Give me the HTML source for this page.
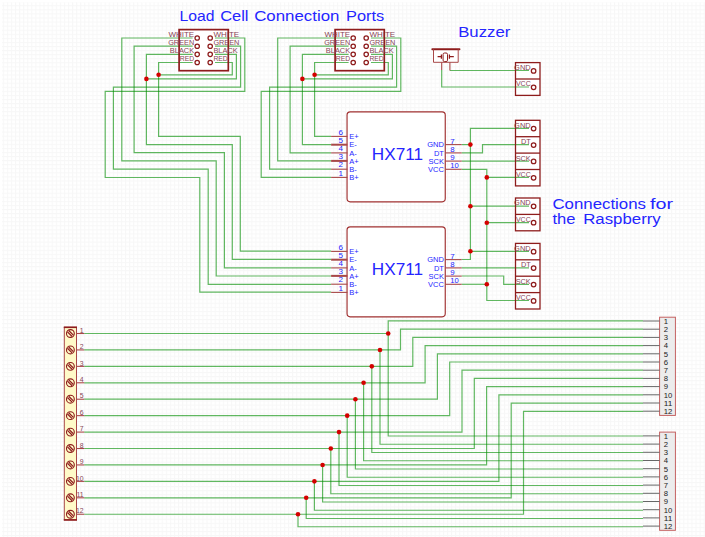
<!DOCTYPE html>
<html><head><meta charset="utf-8"><style>
html,body{margin:0;padding:0;background:#fff;width:705px;height:537px;overflow:hidden}
svg{display:block}
text{font-family:"Liberation Sans", sans-serif}
</style></head><body>
<svg width="705" height="537" viewBox="0 0 705 537" font-family='"Liberation Sans", sans-serif'>
<defs><pattern id="g" x="2.800" y="1.200" width="4.075" height="4.075" patternUnits="userSpaceOnUse"><path d="M0,0.5 H4.075 M0.5,0 V4.075" stroke="#f7f7f7" stroke-width="1" fill="none"/></pattern></defs>
<rect width="705" height="537" fill="#fff"/>
<rect width="705" height="537" fill="url(#g)"/>
<rect width="705" height="2.3" fill="#fff"/><rect width="1.9" height="537" fill="#fff"/>
<rect x="179.10" y="29.6" width="49.2" height="40.8" fill="#fff"/>
<rect x="335.10" y="29.6" width="49.2" height="40.8" fill="#fff"/>
<rect x="346.9" y="111.80" width="98.4" height="90.0" rx="3.2" fill="#fff"/>
<rect x="346.9" y="226.80" width="98.4" height="90.0" rx="3.2" fill="#fff"/>
<rect x="515.5" y="62.60" width="24.5" height="32.80" fill="#fff"/>
<rect x="515.5" y="120.30" width="24.5" height="65.60" fill="#fff"/>
<rect x="515.5" y="198.00" width="24.5" height="32.80" fill="#fff"/>
<rect x="515.5" y="243.40" width="24.5" height="65.60" fill="#fff"/>
<rect x="433.5" y="49.3" width="24.7" height="13" fill="#fff"/>
<path d="M192.60,38.00 L121.80,38.00 L121.80,160.80 L216.20,160.80 L216.20,276.00 L331.10,276.00" fill="none" stroke="#008c00" stroke-opacity="0.62" stroke-width="1.2" stroke-linejoin="miter" stroke-linecap="butt"/>
<path d="M192.60,46.20 L134.10,46.20 L134.10,152.70 L224.40,152.70 L224.40,267.90 L331.10,267.90" fill="none" stroke="#008c00" stroke-opacity="0.62" stroke-width="1.2" stroke-linejoin="miter" stroke-linecap="butt"/>
<path d="M192.60,54.30 L146.40,54.30 L146.40,144.60 L232.30,144.60 L232.30,259.40 L331.10,259.40" fill="none" stroke="#008c00" stroke-opacity="0.62" stroke-width="1.2" stroke-linejoin="miter" stroke-linecap="butt"/>
<path d="M192.60,62.50 L158.60,62.50 L158.60,136.40 L240.30,136.40 L240.30,251.20 L331.10,251.20" fill="none" stroke="#008c00" stroke-opacity="0.62" stroke-width="1.2" stroke-linejoin="miter" stroke-linecap="butt"/>
<path d="M215.00,38.00 L244.80,38.00 L244.80,91.40 L105.20,91.40 L105.20,177.50 L199.80,177.50 L199.80,292.20 L331.10,292.20" fill="none" stroke="#008c00" stroke-opacity="0.62" stroke-width="1.2" stroke-linejoin="miter" stroke-linecap="butt"/>
<path d="M215.00,46.20 L240.60,46.20 L240.60,87.20 L113.40,87.20 L113.40,169.20 L208.20,169.20 L208.20,284.30 L331.10,284.30" fill="none" stroke="#008c00" stroke-opacity="0.62" stroke-width="1.2" stroke-linejoin="miter" stroke-linecap="butt"/>
<path d="M215.00,54.30 L236.40,54.30 L236.40,78.90 L146.40,78.90" fill="none" stroke="#008c00" stroke-opacity="0.62" stroke-width="1.2" stroke-linejoin="miter" stroke-linecap="butt"/>
<path d="M215.00,62.50 L232.30,62.50 L232.30,74.80 L158.60,74.80" fill="none" stroke="#008c00" stroke-opacity="0.62" stroke-width="1.2" stroke-linejoin="miter" stroke-linecap="butt"/>
<circle cx="146.40" cy="78.90" r="2.3" fill="#d40000"/>
<circle cx="158.60" cy="74.80" r="2.3" fill="#d40000"/>
<path d="M348.60,38.00 L277.70,38.00 L277.70,160.90 L331.10,160.90" fill="none" stroke="#008c00" stroke-opacity="0.62" stroke-width="1.2" stroke-linejoin="miter" stroke-linecap="butt"/>
<path d="M348.60,46.20 L290.10,46.20 L290.10,152.90 L331.10,152.90" fill="none" stroke="#008c00" stroke-opacity="0.62" stroke-width="1.2" stroke-linejoin="miter" stroke-linecap="butt"/>
<path d="M348.60,54.30 L302.40,54.30 L302.40,144.70 L331.10,144.70" fill="none" stroke="#008c00" stroke-opacity="0.62" stroke-width="1.2" stroke-linejoin="miter" stroke-linecap="butt"/>
<path d="M348.60,62.50 L314.60,62.50 L314.60,136.40 L331.10,136.40" fill="none" stroke="#008c00" stroke-opacity="0.62" stroke-width="1.2" stroke-linejoin="miter" stroke-linecap="butt"/>
<path d="M371.00,38.00 L400.80,38.00 L400.80,91.40 L261.20,91.40 L261.20,177.40 L331.10,177.40" fill="none" stroke="#008c00" stroke-opacity="0.62" stroke-width="1.2" stroke-linejoin="miter" stroke-linecap="butt"/>
<path d="M371.00,46.20 L396.60,46.20 L396.60,87.20 L269.60,87.20 L269.60,169.20 L331.10,169.20" fill="none" stroke="#008c00" stroke-opacity="0.62" stroke-width="1.2" stroke-linejoin="miter" stroke-linecap="butt"/>
<path d="M371.00,54.30 L392.40,54.30 L392.40,78.90 L302.40,78.90" fill="none" stroke="#008c00" stroke-opacity="0.62" stroke-width="1.2" stroke-linejoin="miter" stroke-linecap="butt"/>
<path d="M371.00,62.50 L388.30,62.50 L388.30,74.80 L314.60,74.80" fill="none" stroke="#008c00" stroke-opacity="0.62" stroke-width="1.2" stroke-linejoin="miter" stroke-linecap="butt"/>
<circle cx="302.40" cy="78.90" r="2.3" fill="#d40000"/>
<circle cx="314.60" cy="74.80" r="2.3" fill="#d40000"/>
<path d="M449.90,70.50 L529.00,70.50" fill="none" stroke="#008c00" stroke-opacity="0.62" stroke-width="1.2" stroke-linejoin="miter" stroke-linecap="butt"/>
<path d="M441.70,70.00 L441.70,87.00 L529.00,87.00" fill="none" stroke="#008c00" stroke-opacity="0.62" stroke-width="1.2" stroke-linejoin="miter" stroke-linecap="butt"/>
<path d="M529.00,128.40 L470.40,128.40 L470.40,259.50 L461.70,259.50" fill="none" stroke="#008c00" stroke-opacity="0.62" stroke-width="1.2" stroke-linejoin="miter" stroke-linecap="butt"/>
<path d="M461.70,144.60 L470.40,144.60" fill="none" stroke="#008c00" stroke-opacity="0.62" stroke-width="1.2" stroke-linejoin="miter" stroke-linecap="butt"/>
<path d="M470.40,206.20 L529.00,206.20" fill="none" stroke="#008c00" stroke-opacity="0.62" stroke-width="1.2" stroke-linejoin="miter" stroke-linecap="butt"/>
<path d="M470.40,251.30 L529.00,251.30" fill="none" stroke="#008c00" stroke-opacity="0.62" stroke-width="1.2" stroke-linejoin="miter" stroke-linecap="butt"/>
<circle cx="470.40" cy="144.60" r="2.3" fill="#d40000"/>
<circle cx="470.40" cy="206.20" r="2.3" fill="#d40000"/>
<circle cx="470.40" cy="251.30" r="2.3" fill="#d40000"/>
<path d="M461.70,152.90 L482.50,152.90 L482.50,144.70 L529.00,144.70" fill="none" stroke="#008c00" stroke-opacity="0.62" stroke-width="1.2" stroke-linejoin="miter" stroke-linecap="butt"/>
<path d="M461.70,161.10 L529.00,161.10" fill="none" stroke="#008c00" stroke-opacity="0.62" stroke-width="1.2" stroke-linejoin="miter" stroke-linecap="butt"/>
<path d="M461.70,169.30 L486.80,169.30 L486.80,300.50 L529.00,300.50" fill="none" stroke="#008c00" stroke-opacity="0.62" stroke-width="1.2" stroke-linejoin="miter" stroke-linecap="butt"/>
<path d="M486.80,177.40 L529.00,177.40" fill="none" stroke="#008c00" stroke-opacity="0.62" stroke-width="1.2" stroke-linejoin="miter" stroke-linecap="butt"/>
<path d="M486.80,222.70 L529.00,222.70" fill="none" stroke="#008c00" stroke-opacity="0.62" stroke-width="1.2" stroke-linejoin="miter" stroke-linecap="butt"/>
<path d="M461.70,284.30 L486.80,284.30" fill="none" stroke="#008c00" stroke-opacity="0.62" stroke-width="1.2" stroke-linejoin="miter" stroke-linecap="butt"/>
<circle cx="486.80" cy="177.40" r="2.3" fill="#d40000"/>
<circle cx="486.80" cy="222.70" r="2.3" fill="#d40000"/>
<circle cx="486.80" cy="284.30" r="2.3" fill="#d40000"/>
<path d="M461.70,267.90 L529.00,267.90" fill="none" stroke="#008c00" stroke-opacity="0.62" stroke-width="1.2" stroke-linejoin="miter" stroke-linecap="butt"/>
<path d="M461.70,276.00 L503.70,276.00 L503.70,284.30 L529.00,284.30" fill="none" stroke="#008c00" stroke-opacity="0.62" stroke-width="1.2" stroke-linejoin="miter" stroke-linecap="butt"/>
<path d="M84.20,333.50 L388.20,333.50 L388.20,320.90 L643.00,320.90" fill="none" stroke="#008c00" stroke-opacity="0.62" stroke-width="1.2" stroke-linejoin="miter" stroke-linecap="butt"/>
<path d="M388.20,333.50 L388.20,436.00 L643.00,436.00" fill="none" stroke="#008c00" stroke-opacity="0.62" stroke-width="1.2" stroke-linejoin="miter" stroke-linecap="butt"/>
<circle cx="388.20" cy="333.50" r="2.3" fill="#d40000"/>
<path d="M84.20,349.93 L400.50,349.93 L400.50,329.12 L643.00,329.12" fill="none" stroke="#008c00" stroke-opacity="0.62" stroke-width="1.2" stroke-linejoin="miter" stroke-linecap="butt"/>
<path d="M380.00,349.93 L380.00,444.25 L643.00,444.25" fill="none" stroke="#008c00" stroke-opacity="0.62" stroke-width="1.2" stroke-linejoin="miter" stroke-linecap="butt"/>
<circle cx="380.00" cy="349.93" r="2.3" fill="#d40000"/>
<path d="M84.20,366.36 L412.80,366.36 L412.80,337.34 L643.00,337.34" fill="none" stroke="#008c00" stroke-opacity="0.62" stroke-width="1.2" stroke-linejoin="miter" stroke-linecap="butt"/>
<path d="M371.80,366.36 L371.80,452.50 L643.00,452.50" fill="none" stroke="#008c00" stroke-opacity="0.62" stroke-width="1.2" stroke-linejoin="miter" stroke-linecap="butt"/>
<circle cx="371.80" cy="366.36" r="2.3" fill="#d40000"/>
<path d="M84.20,382.79 L425.10,382.79 L425.10,345.56 L643.00,345.56" fill="none" stroke="#008c00" stroke-opacity="0.62" stroke-width="1.2" stroke-linejoin="miter" stroke-linecap="butt"/>
<path d="M363.60,382.79 L363.60,460.75 L643.00,460.75" fill="none" stroke="#008c00" stroke-opacity="0.62" stroke-width="1.2" stroke-linejoin="miter" stroke-linecap="butt"/>
<circle cx="363.60" cy="382.79" r="2.3" fill="#d40000"/>
<path d="M84.20,399.22 L437.40,399.22 L437.40,353.78 L643.00,353.78" fill="none" stroke="#008c00" stroke-opacity="0.62" stroke-width="1.2" stroke-linejoin="miter" stroke-linecap="butt"/>
<path d="M355.40,399.22 L355.40,469.00 L643.00,469.00" fill="none" stroke="#008c00" stroke-opacity="0.62" stroke-width="1.2" stroke-linejoin="miter" stroke-linecap="butt"/>
<circle cx="355.40" cy="399.22" r="2.3" fill="#d40000"/>
<path d="M84.20,415.65 L449.70,415.65 L449.70,362.00 L643.00,362.00" fill="none" stroke="#008c00" stroke-opacity="0.62" stroke-width="1.2" stroke-linejoin="miter" stroke-linecap="butt"/>
<path d="M347.20,415.65 L347.20,477.25 L643.00,477.25" fill="none" stroke="#008c00" stroke-opacity="0.62" stroke-width="1.2" stroke-linejoin="miter" stroke-linecap="butt"/>
<circle cx="347.20" cy="415.65" r="2.3" fill="#d40000"/>
<path d="M84.20,432.08 L462.00,432.08 L462.00,370.22 L643.00,370.22" fill="none" stroke="#008c00" stroke-opacity="0.62" stroke-width="1.2" stroke-linejoin="miter" stroke-linecap="butt"/>
<path d="M339.00,432.08 L339.00,485.50 L643.00,485.50" fill="none" stroke="#008c00" stroke-opacity="0.62" stroke-width="1.2" stroke-linejoin="miter" stroke-linecap="butt"/>
<circle cx="339.00" cy="432.08" r="2.3" fill="#d40000"/>
<path d="M84.20,448.51 L474.30,448.51 L474.30,378.44 L643.00,378.44" fill="none" stroke="#008c00" stroke-opacity="0.62" stroke-width="1.2" stroke-linejoin="miter" stroke-linecap="butt"/>
<path d="M330.80,448.51 L330.80,493.75 L643.00,493.75" fill="none" stroke="#008c00" stroke-opacity="0.62" stroke-width="1.2" stroke-linejoin="miter" stroke-linecap="butt"/>
<circle cx="330.80" cy="448.51" r="2.3" fill="#d40000"/>
<path d="M84.20,464.94 L486.60,464.94 L486.60,386.66 L643.00,386.66" fill="none" stroke="#008c00" stroke-opacity="0.62" stroke-width="1.2" stroke-linejoin="miter" stroke-linecap="butt"/>
<path d="M322.60,464.94 L322.60,502.00 L643.00,502.00" fill="none" stroke="#008c00" stroke-opacity="0.62" stroke-width="1.2" stroke-linejoin="miter" stroke-linecap="butt"/>
<circle cx="322.60" cy="464.94" r="2.3" fill="#d40000"/>
<path d="M84.20,481.37 L498.90,481.37 L498.90,394.88 L643.00,394.88" fill="none" stroke="#008c00" stroke-opacity="0.62" stroke-width="1.2" stroke-linejoin="miter" stroke-linecap="butt"/>
<path d="M314.40,481.37 L314.40,510.25 L643.00,510.25" fill="none" stroke="#008c00" stroke-opacity="0.62" stroke-width="1.2" stroke-linejoin="miter" stroke-linecap="butt"/>
<circle cx="314.40" cy="481.37" r="2.3" fill="#d40000"/>
<path d="M84.20,497.80 L511.20,497.80 L511.20,403.10 L643.00,403.10" fill="none" stroke="#008c00" stroke-opacity="0.62" stroke-width="1.2" stroke-linejoin="miter" stroke-linecap="butt"/>
<path d="M306.20,497.80 L306.20,518.50 L643.00,518.50" fill="none" stroke="#008c00" stroke-opacity="0.62" stroke-width="1.2" stroke-linejoin="miter" stroke-linecap="butt"/>
<circle cx="306.20" cy="497.80" r="2.3" fill="#d40000"/>
<path d="M84.20,514.23 L523.50,514.23 L523.50,411.32 L643.00,411.32" fill="none" stroke="#008c00" stroke-opacity="0.62" stroke-width="1.2" stroke-linejoin="miter" stroke-linecap="butt"/>
<path d="M298.00,514.23 L298.00,526.75 L643.00,526.75" fill="none" stroke="#008c00" stroke-opacity="0.62" stroke-width="1.2" stroke-linejoin="miter" stroke-linecap="butt"/>
<circle cx="298.00" cy="514.23" r="2.3" fill="#d40000"/>
<rect x="179.10" y="29.6" width="49.20" height="41.1" fill="none" stroke="#8e1c1c" stroke-width="1.7"/>
<circle cx="197.20" cy="38.0" r="2.2" fill="none" stroke="#8e1c1c" stroke-width="1.25"/>
<circle cx="210.20" cy="38.0" r="2.2" fill="none" stroke="#8e1c1c" stroke-width="1.25"/>
<text x="194.20" y="36.90" font-size="6.9" fill="#874455" text-anchor="end" textLength="25.8" lengthAdjust="spacingAndGlyphs">WHITE</text>
<text x="213.40" y="36.90" font-size="6.9" fill="#874455" text-anchor="start" textLength="25.8" lengthAdjust="spacingAndGlyphs">WHITE</text>
<circle cx="197.20" cy="46.2" r="2.2" fill="none" stroke="#8e1c1c" stroke-width="1.25"/>
<circle cx="210.20" cy="46.2" r="2.2" fill="none" stroke="#8e1c1c" stroke-width="1.25"/>
<text x="194.20" y="45.10" font-size="6.9" fill="#874455" text-anchor="end" textLength="26.0" lengthAdjust="spacingAndGlyphs">GREEN</text>
<text x="213.40" y="45.10" font-size="6.9" fill="#874455" text-anchor="start" textLength="26.0" lengthAdjust="spacingAndGlyphs">GREEN</text>
<circle cx="197.20" cy="54.3" r="2.2" fill="none" stroke="#8e1c1c" stroke-width="1.25"/>
<circle cx="210.20" cy="54.3" r="2.2" fill="none" stroke="#8e1c1c" stroke-width="1.25"/>
<text x="194.20" y="53.20" font-size="6.9" fill="#874455" text-anchor="end" textLength="24.4" lengthAdjust="spacingAndGlyphs">BLACK</text>
<text x="213.40" y="53.20" font-size="6.9" fill="#874455" text-anchor="start" textLength="24.4" lengthAdjust="spacingAndGlyphs">BLACK</text>
<circle cx="197.20" cy="62.5" r="2.2" fill="none" stroke="#8e1c1c" stroke-width="1.25"/>
<circle cx="210.20" cy="62.5" r="2.2" fill="none" stroke="#8e1c1c" stroke-width="1.25"/>
<text x="194.20" y="61.40" font-size="6.9" fill="#874455" text-anchor="end" textLength="14.4" lengthAdjust="spacingAndGlyphs">RED</text>
<text x="213.40" y="61.40" font-size="6.9" fill="#874455" text-anchor="start" textLength="14.4" lengthAdjust="spacingAndGlyphs">RED</text>
<rect x="335.10" y="29.6" width="49.20" height="41.1" fill="none" stroke="#8e1c1c" stroke-width="1.7"/>
<circle cx="353.20" cy="38.0" r="2.2" fill="none" stroke="#8e1c1c" stroke-width="1.25"/>
<circle cx="366.20" cy="38.0" r="2.2" fill="none" stroke="#8e1c1c" stroke-width="1.25"/>
<text x="350.20" y="36.90" font-size="6.9" fill="#874455" text-anchor="end" textLength="25.8" lengthAdjust="spacingAndGlyphs">WHITE</text>
<text x="369.40" y="36.90" font-size="6.9" fill="#874455" text-anchor="start" textLength="25.8" lengthAdjust="spacingAndGlyphs">WHITE</text>
<circle cx="353.20" cy="46.2" r="2.2" fill="none" stroke="#8e1c1c" stroke-width="1.25"/>
<circle cx="366.20" cy="46.2" r="2.2" fill="none" stroke="#8e1c1c" stroke-width="1.25"/>
<text x="350.20" y="45.10" font-size="6.9" fill="#874455" text-anchor="end" textLength="26.0" lengthAdjust="spacingAndGlyphs">GREEN</text>
<text x="369.40" y="45.10" font-size="6.9" fill="#874455" text-anchor="start" textLength="26.0" lengthAdjust="spacingAndGlyphs">GREEN</text>
<circle cx="353.20" cy="54.3" r="2.2" fill="none" stroke="#8e1c1c" stroke-width="1.25"/>
<circle cx="366.20" cy="54.3" r="2.2" fill="none" stroke="#8e1c1c" stroke-width="1.25"/>
<text x="350.20" y="53.20" font-size="6.9" fill="#874455" text-anchor="end" textLength="24.4" lengthAdjust="spacingAndGlyphs">BLACK</text>
<text x="369.40" y="53.20" font-size="6.9" fill="#874455" text-anchor="start" textLength="24.4" lengthAdjust="spacingAndGlyphs">BLACK</text>
<circle cx="353.20" cy="62.5" r="2.2" fill="none" stroke="#8e1c1c" stroke-width="1.25"/>
<circle cx="366.20" cy="62.5" r="2.2" fill="none" stroke="#8e1c1c" stroke-width="1.25"/>
<text x="350.20" y="61.40" font-size="6.9" fill="#874455" text-anchor="end" textLength="14.4" lengthAdjust="spacingAndGlyphs">RED</text>
<text x="369.40" y="61.40" font-size="6.9" fill="#874455" text-anchor="start" textLength="14.4" lengthAdjust="spacingAndGlyphs">RED</text>
<rect x="347.05" y="111.80" width="98.2" height="90.0" rx="3.2" fill="none" stroke="#a03030" stroke-width="1.15"/>
<line x1="331.1" y1="136.40" x2="347.4" y2="136.40" stroke="#a84848" stroke-width="1.1"/>
<text x="349.30" y="139.00" font-size="7.5" fill="#2525ff" text-anchor="start">E+</text>
<text x="342.90" y="134.50" font-size="7.3" fill="#2525ff" text-anchor="end" textLength="4.5" lengthAdjust="spacingAndGlyphs">6</text>
<line x1="331.1" y1="144.70" x2="347.4" y2="144.70" stroke="#a84848" stroke-width="2.0"/>
<text x="349.30" y="147.30" font-size="7.5" fill="#2525ff" text-anchor="start">E-</text>
<text x="342.90" y="142.80" font-size="7.3" fill="#2525ff" text-anchor="end" textLength="4.5" lengthAdjust="spacingAndGlyphs">5</text>
<line x1="331.1" y1="152.90" x2="347.4" y2="152.90" stroke="#a84848" stroke-width="1.1"/>
<text x="349.30" y="155.50" font-size="7.5" fill="#2525ff" text-anchor="start">A-</text>
<text x="342.90" y="151.00" font-size="7.3" fill="#2525ff" text-anchor="end" textLength="4.5" lengthAdjust="spacingAndGlyphs">4</text>
<line x1="331.1" y1="160.90" x2="347.4" y2="160.90" stroke="#a84848" stroke-width="2.0"/>
<text x="349.30" y="163.50" font-size="7.5" fill="#2525ff" text-anchor="start">A+</text>
<text x="342.90" y="159.00" font-size="7.3" fill="#2525ff" text-anchor="end" textLength="4.5" lengthAdjust="spacingAndGlyphs">3</text>
<line x1="331.1" y1="169.20" x2="347.4" y2="169.20" stroke="#a84848" stroke-width="1.1"/>
<text x="349.30" y="171.80" font-size="7.5" fill="#2525ff" text-anchor="start">B-</text>
<text x="342.90" y="167.30" font-size="7.3" fill="#2525ff" text-anchor="end" textLength="4.5" lengthAdjust="spacingAndGlyphs">2</text>
<line x1="331.1" y1="177.40" x2="347.4" y2="177.40" stroke="#a84848" stroke-width="1.1"/>
<text x="349.30" y="180.00" font-size="7.5" fill="#2525ff" text-anchor="start">B+</text>
<text x="342.90" y="175.50" font-size="7.3" fill="#2525ff" text-anchor="end" textLength="4.5" lengthAdjust="spacingAndGlyphs">1</text>
<line x1="445.3" y1="144.60" x2="461.7" y2="144.60" stroke="#a84848" stroke-width="1.1"/>
<text x="443.90" y="147.20" font-size="7.5" fill="#2525ff" text-anchor="end">GND</text>
<text x="450.20" y="143.60" font-size="7.3" fill="#2525ff" text-anchor="start" textLength="4.4" lengthAdjust="spacingAndGlyphs">7</text>
<line x1="445.3" y1="152.90" x2="461.7" y2="152.90" stroke="#a84848" stroke-width="1.1"/>
<text x="443.90" y="155.50" font-size="7.5" fill="#2525ff" text-anchor="end">DT</text>
<text x="450.20" y="151.90" font-size="7.3" fill="#2525ff" text-anchor="start" textLength="4.4" lengthAdjust="spacingAndGlyphs">8</text>
<line x1="445.3" y1="161.10" x2="461.7" y2="161.10" stroke="#a84848" stroke-width="1.1"/>
<text x="443.90" y="163.70" font-size="7.5" fill="#2525ff" text-anchor="end">SCK</text>
<text x="450.20" y="160.10" font-size="7.3" fill="#2525ff" text-anchor="start" textLength="4.4" lengthAdjust="spacingAndGlyphs">9</text>
<line x1="445.3" y1="169.30" x2="461.7" y2="169.30" stroke="#a84848" stroke-width="1.1"/>
<text x="443.90" y="171.90" font-size="7.5" fill="#2525ff" text-anchor="end">VCC</text>
<text x="450.20" y="168.30" font-size="7.3" fill="#2525ff" text-anchor="start" textLength="8.5" lengthAdjust="spacingAndGlyphs">10</text>
<text x="371.80" y="160.30" font-size="16.2" fill="#2525ff" text-anchor="start" textLength="51.2" lengthAdjust="spacingAndGlyphs">HX711</text>
<rect x="347.05" y="226.80" width="98.2" height="90.0" rx="3.2" fill="none" stroke="#a03030" stroke-width="1.15"/>
<line x1="331.1" y1="251.40" x2="347.4" y2="251.40" stroke="#a84848" stroke-width="1.1"/>
<text x="349.30" y="254.00" font-size="7.5" fill="#2525ff" text-anchor="start">E+</text>
<text x="342.90" y="249.50" font-size="7.3" fill="#2525ff" text-anchor="end" textLength="4.5" lengthAdjust="spacingAndGlyphs">6</text>
<line x1="331.1" y1="259.70" x2="347.4" y2="259.70" stroke="#a84848" stroke-width="2.0"/>
<text x="349.30" y="262.30" font-size="7.5" fill="#2525ff" text-anchor="start">E-</text>
<text x="342.90" y="257.80" font-size="7.3" fill="#2525ff" text-anchor="end" textLength="4.5" lengthAdjust="spacingAndGlyphs">5</text>
<line x1="331.1" y1="267.90" x2="347.4" y2="267.90" stroke="#a84848" stroke-width="1.1"/>
<text x="349.30" y="270.50" font-size="7.5" fill="#2525ff" text-anchor="start">A-</text>
<text x="342.90" y="266.00" font-size="7.3" fill="#2525ff" text-anchor="end" textLength="4.5" lengthAdjust="spacingAndGlyphs">4</text>
<line x1="331.1" y1="275.90" x2="347.4" y2="275.90" stroke="#a84848" stroke-width="2.0"/>
<text x="349.30" y="278.50" font-size="7.5" fill="#2525ff" text-anchor="start">A+</text>
<text x="342.90" y="274.00" font-size="7.3" fill="#2525ff" text-anchor="end" textLength="4.5" lengthAdjust="spacingAndGlyphs">3</text>
<line x1="331.1" y1="284.20" x2="347.4" y2="284.20" stroke="#a84848" stroke-width="1.1"/>
<text x="349.30" y="286.80" font-size="7.5" fill="#2525ff" text-anchor="start">B-</text>
<text x="342.90" y="282.30" font-size="7.3" fill="#2525ff" text-anchor="end" textLength="4.5" lengthAdjust="spacingAndGlyphs">2</text>
<line x1="331.1" y1="292.40" x2="347.4" y2="292.40" stroke="#a84848" stroke-width="1.1"/>
<text x="349.30" y="295.00" font-size="7.5" fill="#2525ff" text-anchor="start">B+</text>
<text x="342.90" y="290.50" font-size="7.3" fill="#2525ff" text-anchor="end" textLength="4.5" lengthAdjust="spacingAndGlyphs">1</text>
<line x1="445.3" y1="259.60" x2="461.7" y2="259.60" stroke="#a84848" stroke-width="1.1"/>
<text x="443.90" y="262.20" font-size="7.5" fill="#2525ff" text-anchor="end">GND</text>
<text x="450.20" y="258.60" font-size="7.3" fill="#2525ff" text-anchor="start" textLength="4.4" lengthAdjust="spacingAndGlyphs">7</text>
<line x1="445.3" y1="267.90" x2="461.7" y2="267.90" stroke="#a84848" stroke-width="1.1"/>
<text x="443.90" y="270.50" font-size="7.5" fill="#2525ff" text-anchor="end">DT</text>
<text x="450.20" y="266.90" font-size="7.3" fill="#2525ff" text-anchor="start" textLength="4.4" lengthAdjust="spacingAndGlyphs">8</text>
<line x1="445.3" y1="276.10" x2="461.7" y2="276.10" stroke="#a84848" stroke-width="1.1"/>
<text x="443.90" y="278.70" font-size="7.5" fill="#2525ff" text-anchor="end">SCK</text>
<text x="450.20" y="275.10" font-size="7.3" fill="#2525ff" text-anchor="start" textLength="4.4" lengthAdjust="spacingAndGlyphs">9</text>
<line x1="445.3" y1="284.30" x2="461.7" y2="284.30" stroke="#a84848" stroke-width="1.1"/>
<text x="443.90" y="286.90" font-size="7.5" fill="#2525ff" text-anchor="end">VCC</text>
<text x="450.20" y="283.30" font-size="7.3" fill="#2525ff" text-anchor="start" textLength="8.5" lengthAdjust="spacingAndGlyphs">10</text>
<text x="371.80" y="275.30" font-size="16.2" fill="#2525ff" text-anchor="start" textLength="51.2" lengthAdjust="spacingAndGlyphs">HX711</text>
<rect x="515.5" y="62.60" width="24.5" height="32.80" fill="none" stroke="#8e1c1c" stroke-width="1.3"/>
<line x1="515.5" y1="79.00" x2="540.0" y2="79.00" stroke="#8e1c1c" stroke-width="1.3"/>
<text x="530.70" y="70.00" font-size="7.3" fill="#874455" text-anchor="end" textLength="16.6" lengthAdjust="spacingAndGlyphs">GND</text>
<circle cx="533.6" cy="70.90" r="2.25" fill="white" stroke="#8e1c1c" stroke-width="1.25"/>
<text x="530.70" y="86.40" font-size="7.3" fill="#874455" text-anchor="end" textLength="14.8" lengthAdjust="spacingAndGlyphs">VCC</text>
<circle cx="533.6" cy="87.30" r="2.25" fill="white" stroke="#8e1c1c" stroke-width="1.25"/>
<rect x="515.5" y="120.30" width="24.5" height="65.60" fill="none" stroke="#8e1c1c" stroke-width="1.3"/>
<line x1="515.5" y1="136.70" x2="540.0" y2="136.70" stroke="#8e1c1c" stroke-width="1.3"/>
<line x1="515.5" y1="153.10" x2="540.0" y2="153.10" stroke="#8e1c1c" stroke-width="1.3"/>
<line x1="515.5" y1="169.50" x2="540.0" y2="169.50" stroke="#8e1c1c" stroke-width="1.3"/>
<text x="530.70" y="127.70" font-size="7.3" fill="#874455" text-anchor="end" textLength="16.6" lengthAdjust="spacingAndGlyphs">GND</text>
<circle cx="533.6" cy="128.60" r="2.25" fill="white" stroke="#8e1c1c" stroke-width="1.25"/>
<text x="530.70" y="144.10" font-size="7.3" fill="#874455" text-anchor="end" textLength="9.8" lengthAdjust="spacingAndGlyphs">DT</text>
<circle cx="533.6" cy="145.00" r="2.25" fill="white" stroke="#8e1c1c" stroke-width="1.25"/>
<text x="530.70" y="160.50" font-size="7.3" fill="#874455" text-anchor="end" textLength="15.0" lengthAdjust="spacingAndGlyphs">SCK</text>
<circle cx="533.6" cy="161.40" r="2.25" fill="white" stroke="#8e1c1c" stroke-width="1.25"/>
<text x="530.70" y="176.90" font-size="7.3" fill="#874455" text-anchor="end" textLength="14.8" lengthAdjust="spacingAndGlyphs">VCC</text>
<circle cx="533.6" cy="177.80" r="2.25" fill="white" stroke="#8e1c1c" stroke-width="1.25"/>
<rect x="515.5" y="198.00" width="24.5" height="32.80" fill="none" stroke="#8e1c1c" stroke-width="1.3"/>
<line x1="515.5" y1="214.40" x2="540.0" y2="214.40" stroke="#8e1c1c" stroke-width="1.3"/>
<text x="530.70" y="205.40" font-size="7.3" fill="#874455" text-anchor="end" textLength="16.6" lengthAdjust="spacingAndGlyphs">GND</text>
<circle cx="533.6" cy="206.30" r="2.25" fill="white" stroke="#8e1c1c" stroke-width="1.25"/>
<text x="530.70" y="221.80" font-size="7.3" fill="#874455" text-anchor="end" textLength="14.8" lengthAdjust="spacingAndGlyphs">VCC</text>
<circle cx="533.6" cy="222.70" r="2.25" fill="white" stroke="#8e1c1c" stroke-width="1.25"/>
<rect x="515.5" y="243.40" width="24.5" height="65.60" fill="none" stroke="#8e1c1c" stroke-width="1.3"/>
<line x1="515.5" y1="259.80" x2="540.0" y2="259.80" stroke="#8e1c1c" stroke-width="1.3"/>
<line x1="515.5" y1="276.20" x2="540.0" y2="276.20" stroke="#8e1c1c" stroke-width="1.3"/>
<line x1="515.5" y1="292.60" x2="540.0" y2="292.60" stroke="#8e1c1c" stroke-width="1.3"/>
<text x="530.70" y="250.80" font-size="7.3" fill="#874455" text-anchor="end" textLength="16.6" lengthAdjust="spacingAndGlyphs">GND</text>
<circle cx="533.6" cy="251.70" r="2.25" fill="white" stroke="#8e1c1c" stroke-width="1.25"/>
<text x="530.70" y="267.20" font-size="7.3" fill="#874455" text-anchor="end" textLength="9.8" lengthAdjust="spacingAndGlyphs">DT</text>
<circle cx="533.6" cy="268.10" r="2.25" fill="white" stroke="#8e1c1c" stroke-width="1.25"/>
<text x="530.70" y="283.60" font-size="7.3" fill="#874455" text-anchor="end" textLength="15.0" lengthAdjust="spacingAndGlyphs">SCK</text>
<circle cx="533.6" cy="284.50" r="2.25" fill="white" stroke="#8e1c1c" stroke-width="1.25"/>
<text x="530.70" y="300.00" font-size="7.3" fill="#874455" text-anchor="end" textLength="14.8" lengthAdjust="spacingAndGlyphs">VCC</text>
<circle cx="533.6" cy="300.90" r="2.25" fill="white" stroke="#8e1c1c" stroke-width="1.25"/>
<rect x="659.6" y="317.20" width="15.8" height="98.2" fill="#ececec" stroke="#c25a5a" stroke-width="0.95"/>
<line x1="643" y1="321.00" x2="659.6" y2="321.00" stroke="#666" stroke-width="1.0"/>
<text x="663.80" y="323.80" font-size="7.9" fill="#222" text-anchor="start" textLength="4.3" lengthAdjust="spacingAndGlyphs">1</text>
<line x1="643" y1="329.20" x2="659.6" y2="329.20" stroke="#666" stroke-width="1.0"/>
<text x="663.80" y="332.00" font-size="7.9" fill="#222" text-anchor="start" textLength="4.3" lengthAdjust="spacingAndGlyphs">2</text>
<line x1="643" y1="337.40" x2="659.6" y2="337.40" stroke="#666" stroke-width="1.0"/>
<text x="663.80" y="340.20" font-size="7.9" fill="#222" text-anchor="start" textLength="4.3" lengthAdjust="spacingAndGlyphs">3</text>
<line x1="643" y1="345.60" x2="659.6" y2="345.60" stroke="#666" stroke-width="1.0"/>
<text x="663.80" y="348.40" font-size="7.9" fill="#222" text-anchor="start" textLength="4.3" lengthAdjust="spacingAndGlyphs">4</text>
<line x1="643" y1="353.80" x2="659.6" y2="353.80" stroke="#666" stroke-width="1.0"/>
<text x="663.80" y="356.60" font-size="7.9" fill="#222" text-anchor="start" textLength="4.3" lengthAdjust="spacingAndGlyphs">5</text>
<line x1="643" y1="362.00" x2="659.6" y2="362.00" stroke="#666" stroke-width="1.0"/>
<text x="663.80" y="364.80" font-size="7.9" fill="#222" text-anchor="start" textLength="4.3" lengthAdjust="spacingAndGlyphs">6</text>
<line x1="643" y1="370.20" x2="659.6" y2="370.20" stroke="#666" stroke-width="1.0"/>
<text x="663.80" y="373.00" font-size="7.9" fill="#222" text-anchor="start" textLength="4.3" lengthAdjust="spacingAndGlyphs">7</text>
<line x1="643" y1="378.40" x2="659.6" y2="378.40" stroke="#666" stroke-width="1.0"/>
<text x="663.80" y="381.20" font-size="7.9" fill="#222" text-anchor="start" textLength="4.3" lengthAdjust="spacingAndGlyphs">8</text>
<line x1="643" y1="386.60" x2="659.6" y2="386.60" stroke="#666" stroke-width="1.0"/>
<text x="663.80" y="389.40" font-size="7.9" fill="#222" text-anchor="start" textLength="4.3" lengthAdjust="spacingAndGlyphs">9</text>
<line x1="643" y1="394.80" x2="659.6" y2="394.80" stroke="#666" stroke-width="1.0"/>
<text x="663.80" y="397.60" font-size="7.9" fill="#222" text-anchor="start" textLength="8.6" lengthAdjust="spacingAndGlyphs">10</text>
<line x1="643" y1="403.00" x2="659.6" y2="403.00" stroke="#666" stroke-width="1.0"/>
<text x="663.80" y="405.80" font-size="7.9" fill="#222" text-anchor="start" textLength="8.6" lengthAdjust="spacingAndGlyphs">11</text>
<line x1="643" y1="411.20" x2="659.6" y2="411.20" stroke="#666" stroke-width="1.0"/>
<text x="663.80" y="414.00" font-size="7.9" fill="#222" text-anchor="start" textLength="8.6" lengthAdjust="spacingAndGlyphs">12</text>
<rect x="659.6" y="432.10" width="15.8" height="98.2" fill="#ececec" stroke="#c25a5a" stroke-width="0.95"/>
<line x1="643" y1="435.90" x2="659.6" y2="435.90" stroke="#666" stroke-width="1.0"/>
<text x="663.80" y="438.70" font-size="7.9" fill="#222" text-anchor="start" textLength="4.3" lengthAdjust="spacingAndGlyphs">1</text>
<line x1="643" y1="444.10" x2="659.6" y2="444.10" stroke="#666" stroke-width="1.0"/>
<text x="663.80" y="446.90" font-size="7.9" fill="#222" text-anchor="start" textLength="4.3" lengthAdjust="spacingAndGlyphs">2</text>
<line x1="643" y1="452.30" x2="659.6" y2="452.30" stroke="#666" stroke-width="1.0"/>
<text x="663.80" y="455.10" font-size="7.9" fill="#222" text-anchor="start" textLength="4.3" lengthAdjust="spacingAndGlyphs">3</text>
<line x1="643" y1="460.50" x2="659.6" y2="460.50" stroke="#666" stroke-width="1.0"/>
<text x="663.80" y="463.30" font-size="7.9" fill="#222" text-anchor="start" textLength="4.3" lengthAdjust="spacingAndGlyphs">4</text>
<line x1="643" y1="468.70" x2="659.6" y2="468.70" stroke="#666" stroke-width="1.0"/>
<text x="663.80" y="471.50" font-size="7.9" fill="#222" text-anchor="start" textLength="4.3" lengthAdjust="spacingAndGlyphs">5</text>
<line x1="643" y1="476.90" x2="659.6" y2="476.90" stroke="#666" stroke-width="1.0"/>
<text x="663.80" y="479.70" font-size="7.9" fill="#222" text-anchor="start" textLength="4.3" lengthAdjust="spacingAndGlyphs">6</text>
<line x1="643" y1="485.10" x2="659.6" y2="485.10" stroke="#666" stroke-width="1.0"/>
<text x="663.80" y="487.90" font-size="7.9" fill="#222" text-anchor="start" textLength="4.3" lengthAdjust="spacingAndGlyphs">7</text>
<line x1="643" y1="493.30" x2="659.6" y2="493.30" stroke="#666" stroke-width="1.0"/>
<text x="663.80" y="496.10" font-size="7.9" fill="#222" text-anchor="start" textLength="4.3" lengthAdjust="spacingAndGlyphs">8</text>
<line x1="643" y1="501.50" x2="659.6" y2="501.50" stroke="#666" stroke-width="1.0"/>
<text x="663.80" y="504.30" font-size="7.9" fill="#222" text-anchor="start" textLength="4.3" lengthAdjust="spacingAndGlyphs">9</text>
<line x1="643" y1="509.70" x2="659.6" y2="509.70" stroke="#666" stroke-width="1.0"/>
<text x="663.80" y="512.50" font-size="7.9" fill="#222" text-anchor="start" textLength="8.6" lengthAdjust="spacingAndGlyphs">10</text>
<line x1="643" y1="517.90" x2="659.6" y2="517.90" stroke="#666" stroke-width="1.0"/>
<text x="663.80" y="520.70" font-size="7.9" fill="#222" text-anchor="start" textLength="8.6" lengthAdjust="spacingAndGlyphs">11</text>
<line x1="643" y1="526.10" x2="659.6" y2="526.10" stroke="#666" stroke-width="1.0"/>
<text x="663.80" y="528.90" font-size="7.9" fill="#222" text-anchor="start" textLength="8.6" lengthAdjust="spacingAndGlyphs">12</text>
<rect x="64.3" y="327.3" width="12.2" height="192.6" fill="#fffac8" stroke="#a84848" stroke-width="1"/>
<line x1="63.8" y1="327.3" x2="77" y2="327.3" stroke="#8e1c1c" stroke-width="1.6"/>
<line x1="63.8" y1="519.9" x2="77" y2="519.9" stroke="#8e1c1c" stroke-width="1.6"/>
<circle cx="70.4" cy="333.50" r="3.9" fill="none" stroke="#8e1c1c" stroke-width="1.1"/>
<line x1="67.45" y1="331.82" x2="72.08" y2="336.45" stroke="#8e1c1c" stroke-width="1.25"/>
<line x1="68.72" y1="330.55" x2="73.35" y2="335.18" stroke="#8e1c1c" stroke-width="1.25"/>
<line x1="76.5" y1="333.50" x2="84.2" y2="333.50" stroke="#a84848" stroke-width="1.1"/>
<text x="83.60" y="332.70" font-size="6.9" fill="#874455" text-anchor="end">1</text>
<circle cx="70.4" cy="349.93" r="3.9" fill="none" stroke="#8e1c1c" stroke-width="1.1"/>
<line x1="67.45" y1="348.25" x2="72.08" y2="352.88" stroke="#8e1c1c" stroke-width="1.25"/>
<line x1="68.72" y1="346.98" x2="73.35" y2="351.61" stroke="#8e1c1c" stroke-width="1.25"/>
<line x1="76.5" y1="349.93" x2="84.2" y2="349.93" stroke="#a84848" stroke-width="1.1"/>
<text x="83.60" y="349.13" font-size="6.9" fill="#874455" text-anchor="end">2</text>
<circle cx="70.4" cy="366.36" r="3.9" fill="none" stroke="#8e1c1c" stroke-width="1.1"/>
<line x1="67.45" y1="364.68" x2="72.08" y2="369.31" stroke="#8e1c1c" stroke-width="1.25"/>
<line x1="68.72" y1="363.41" x2="73.35" y2="368.04" stroke="#8e1c1c" stroke-width="1.25"/>
<line x1="76.5" y1="366.36" x2="84.2" y2="366.36" stroke="#a84848" stroke-width="1.1"/>
<text x="83.60" y="365.56" font-size="6.9" fill="#874455" text-anchor="end">3</text>
<circle cx="70.4" cy="382.79" r="3.9" fill="none" stroke="#8e1c1c" stroke-width="1.1"/>
<line x1="67.45" y1="381.11" x2="72.08" y2="385.74" stroke="#8e1c1c" stroke-width="1.25"/>
<line x1="68.72" y1="379.84" x2="73.35" y2="384.47" stroke="#8e1c1c" stroke-width="1.25"/>
<line x1="76.5" y1="382.79" x2="84.2" y2="382.79" stroke="#a84848" stroke-width="1.1"/>
<text x="83.60" y="381.99" font-size="6.9" fill="#874455" text-anchor="end">4</text>
<circle cx="70.4" cy="399.22" r="3.9" fill="none" stroke="#8e1c1c" stroke-width="1.1"/>
<line x1="67.45" y1="397.54" x2="72.08" y2="402.17" stroke="#8e1c1c" stroke-width="1.25"/>
<line x1="68.72" y1="396.27" x2="73.35" y2="400.90" stroke="#8e1c1c" stroke-width="1.25"/>
<line x1="76.5" y1="399.22" x2="84.2" y2="399.22" stroke="#a84848" stroke-width="1.1"/>
<text x="83.60" y="398.42" font-size="6.9" fill="#874455" text-anchor="end">5</text>
<circle cx="70.4" cy="415.65" r="3.9" fill="none" stroke="#8e1c1c" stroke-width="1.1"/>
<line x1="67.45" y1="413.97" x2="72.08" y2="418.60" stroke="#8e1c1c" stroke-width="1.25"/>
<line x1="68.72" y1="412.70" x2="73.35" y2="417.33" stroke="#8e1c1c" stroke-width="1.25"/>
<line x1="76.5" y1="415.65" x2="84.2" y2="415.65" stroke="#a84848" stroke-width="1.1"/>
<text x="83.60" y="414.85" font-size="6.9" fill="#874455" text-anchor="end">6</text>
<circle cx="70.4" cy="432.08" r="3.9" fill="none" stroke="#8e1c1c" stroke-width="1.1"/>
<line x1="67.45" y1="430.40" x2="72.08" y2="435.03" stroke="#8e1c1c" stroke-width="1.25"/>
<line x1="68.72" y1="429.13" x2="73.35" y2="433.76" stroke="#8e1c1c" stroke-width="1.25"/>
<line x1="76.5" y1="432.08" x2="84.2" y2="432.08" stroke="#a84848" stroke-width="1.1"/>
<text x="83.60" y="431.28" font-size="6.9" fill="#874455" text-anchor="end">7</text>
<circle cx="70.4" cy="448.51" r="3.9" fill="none" stroke="#8e1c1c" stroke-width="1.1"/>
<line x1="67.45" y1="446.83" x2="72.08" y2="451.46" stroke="#8e1c1c" stroke-width="1.25"/>
<line x1="68.72" y1="445.56" x2="73.35" y2="450.19" stroke="#8e1c1c" stroke-width="1.25"/>
<line x1="76.5" y1="448.51" x2="84.2" y2="448.51" stroke="#a84848" stroke-width="1.1"/>
<text x="83.60" y="447.71" font-size="6.9" fill="#874455" text-anchor="end">8</text>
<circle cx="70.4" cy="464.94" r="3.9" fill="none" stroke="#8e1c1c" stroke-width="1.1"/>
<line x1="67.45" y1="463.26" x2="72.08" y2="467.89" stroke="#8e1c1c" stroke-width="1.25"/>
<line x1="68.72" y1="461.99" x2="73.35" y2="466.62" stroke="#8e1c1c" stroke-width="1.25"/>
<line x1="76.5" y1="464.94" x2="84.2" y2="464.94" stroke="#a84848" stroke-width="1.1"/>
<text x="83.60" y="464.14" font-size="6.9" fill="#874455" text-anchor="end">9</text>
<circle cx="70.4" cy="481.37" r="3.9" fill="none" stroke="#8e1c1c" stroke-width="1.1"/>
<line x1="67.45" y1="479.69" x2="72.08" y2="484.32" stroke="#8e1c1c" stroke-width="1.25"/>
<line x1="68.72" y1="478.42" x2="73.35" y2="483.05" stroke="#8e1c1c" stroke-width="1.25"/>
<line x1="76.5" y1="481.37" x2="84.2" y2="481.37" stroke="#a84848" stroke-width="1.1"/>
<text x="83.60" y="480.57" font-size="6.9" fill="#874455" text-anchor="end">10</text>
<circle cx="70.4" cy="497.80" r="3.9" fill="none" stroke="#8e1c1c" stroke-width="1.1"/>
<line x1="67.45" y1="496.12" x2="72.08" y2="500.75" stroke="#8e1c1c" stroke-width="1.25"/>
<line x1="68.72" y1="494.85" x2="73.35" y2="499.48" stroke="#8e1c1c" stroke-width="1.25"/>
<line x1="76.5" y1="497.80" x2="84.2" y2="497.80" stroke="#a84848" stroke-width="1.1"/>
<text x="83.60" y="497.00" font-size="6.9" fill="#874455" text-anchor="end">11</text>
<circle cx="70.4" cy="514.23" r="3.9" fill="none" stroke="#8e1c1c" stroke-width="1.1"/>
<line x1="67.45" y1="512.55" x2="72.08" y2="517.18" stroke="#8e1c1c" stroke-width="1.25"/>
<line x1="68.72" y1="511.28" x2="73.35" y2="515.91" stroke="#8e1c1c" stroke-width="1.25"/>
<line x1="76.5" y1="514.23" x2="84.2" y2="514.23" stroke="#a84848" stroke-width="1.1"/>
<text x="83.60" y="513.43" font-size="6.9" fill="#874455" text-anchor="end">12</text>
<line x1="432.3" y1="49.3" x2="459.5" y2="49.3" stroke="#8e1c1c" stroke-width="1.9" stroke-linecap="round"/>
<path d="M433.5,49.3 V62.3 H458.2 V49.3" fill="none" stroke="#a84848" stroke-width="1"/>
<rect x="443.1" y="53.0" width="4.4" height="8.6" rx="1.4" fill="none" stroke="#8e1c1c" stroke-width="1"/>
<path d="M437.6,56.7 H441.2 M441.4,54.6 V58.8 M449.4,54.6 V58.8 M449.6,56.7 H453.8" fill="none" stroke="#8e1c1c" stroke-width="1.25"/>
<path d="M441.7,62.3 V70 M449.9,62.3 V70.4" fill="none" stroke="#a84848" stroke-width="1.1"/>
<text x="179.50" y="20.70" font-size="15.4" fill="#2525ff" text-anchor="start" textLength="35.0" lengthAdjust="spacingAndGlyphs">Load</text>
<text x="220.20" y="20.70" font-size="15.4" fill="#2525ff" text-anchor="start" textLength="28.3" lengthAdjust="spacingAndGlyphs">Cell</text>
<text x="254.20" y="20.70" font-size="15.4" fill="#2525ff" text-anchor="start" textLength="85.2" lengthAdjust="spacingAndGlyphs">Connection</text>
<text x="346.00" y="20.70" font-size="15.4" fill="#2525ff" text-anchor="start" textLength="38.2" lengthAdjust="spacingAndGlyphs">Ports</text>
<text x="458.20" y="36.80" font-size="15.0" fill="#2525ff" text-anchor="start" textLength="52.1" lengthAdjust="spacingAndGlyphs">Buzzer</text>
<text x="552.40" y="209.10" font-size="14.7" fill="#2525ff" text-anchor="start" textLength="93.6" lengthAdjust="spacingAndGlyphs">Connections</text>
<text x="650.10" y="209.10" font-size="14.7" fill="#2525ff" text-anchor="start" textLength="23.0" lengthAdjust="spacingAndGlyphs">for</text>
<text x="552.40" y="224.00" font-size="14.7" fill="#2525ff" text-anchor="start" textLength="23.0" lengthAdjust="spacingAndGlyphs">the</text>
<text x="583.20" y="224.00" font-size="14.7" fill="#2525ff" text-anchor="start" textLength="77.6" lengthAdjust="spacingAndGlyphs">Raspberry</text>
</svg>
</body></html>
